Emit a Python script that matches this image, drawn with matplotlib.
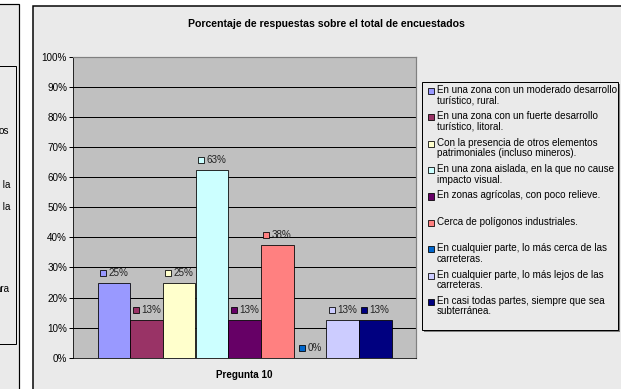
import math
import matplotlib
matplotlib.use("Agg")
import matplotlib.pyplot as plt
from matplotlib.patches import Rectangle
from matplotlib.offsetbox import DrawingArea, TextArea, HPacker, AnnotationBbox

# ---------------- data ----------------
title = "Porcentaje de respuestas sobre el total de encuestados"
category = "Pregunta 10"
series_names = [
    "En una zona con un moderado desarrollo\nturístico, rural.",
    "En una zona con un fuerte desarrollo\nturístico, litoral.",
    "Con la presencia de otros elementos\npatrimoniales (incluso mineros).",
    "En una zona aislada, en la que no cause\nimpacto visual.",
    "En zonas agrícolas, con poco relieve.",
    "Cerca de polígonos industriales.",
    "En cualquier parte, lo más cerca de las\ncarreteras.",
    "En cualquier parte, lo más lejos de las\ncarreteras.",
    "En casi todas partes, siempre que sea\nsubterránea.",
]
values = [25, 12.5, 25, 62.5, 12.5, 37.5, 0, 12.5, 12.5]
colors = ["#9999FF", "#993366", "#FFFFCC", "#CCFFFF", "#660066",
          "#FF8080", "#0066CC", "#CCCCFF", "#000080"]
yticks = [0, 10, 20, 30, 40, 50, 60, 70, 80, 90, 100]
ytick_labels = [f"{t}%" for t in yticks]
left_fragments = ["os", "y la", "y la", "ara"]

# ---------------- figure ----------------
W, H = 621, 389
DPI = 72
plt.rcParams["font.family"] = ["Liberation Sans", "DejaVu Sans"]
FS = 9.9
fig = plt.figure(figsize=(W / DPI, H / DPI), dpi=DPI, facecolor="white")


def fx(x):
    return x / W


def fy(y):
    return 1 - y / H


def frect(x0, y0, x1, y1, **kw):
    r = Rectangle((fx(x0), fy(y1)), fx(x1) - fx(x0), fy(y0) - fy(y1),
                  transform=fig.transFigure, **kw)
    fig.add_artist(r)
    return r


PANEL = "#EAEAEA"
# left (cut-off) chart panel
frect(-10, 4, 19, 400, facecolor=PANEL, edgecolor="black", lw=1.2, zorder=0)
frect(-10, 66, 16, 344, facecolor=PANEL, edgecolor="black", lw=1.0, zorder=1)
for txt, y, xr in zip(left_fragments, [131, 185, 207, 289], [9.0, 10.0, 10.0, 10.0]):
    fig.text(fx(xr), fy(y), txt, ha="right", va="center", fontsize=FS, color="black", zorder=2)

# right chart panel
frect(33, 6, 640, 400, facecolor=PANEL, edgecolor="black", lw=1.5, zorder=0)

fig.text(fx(326), fy(24), title, ha="center", va="center",
         fontsize=10.5, fontweight="bold", zorder=3)

# ---------------- axes ----------------
L, R, T, B = 73, 416, 57, 357.7
ax = fig.add_axes([fx(L), fy(B), fx(R) - fx(L), fy(T) - fy(B)], zorder=5)
ax.set_facecolor("#C0C0C0")

n = len(values)
w = 1 / (n + 1.5)
xs = [-0.5 + 0.75 * w + (i + 0.5) * w for i in range(n)]
ax.set_xlim(-0.5, 0.5)
ax.set_ylim(0, 100)
ax.set_yticks(yticks)
ax.set_yticklabels(ytick_labels, fontsize=FS)
ax.yaxis.grid(True, color="black", lw=1.0)
ax.set_axisbelow(True)
ax.tick_params(axis="y", length=4, width=1, pad=2, color="black")
ax.set_xticks([0])
ax.set_xticklabels([category], fontsize=FS, fontweight="bold")
ax.tick_params(axis="x", length=0, pad=12)
for s in ["top", "right"]:
    ax.spines[s].set_color("#808080")
    ax.spines[s].set_linewidth(1.2)
ax.spines["left"].set_color("black")
ax.spines["bottom"].set_color("black")

for x, v, c in zip(xs, values, colors):
    ax.bar(x, v, width=w, color=c, edgecolor="black", lw=0.8, zorder=3)
    da = DrawingArea(7, 7, 0, 0)
    da.add_artist(Rectangle((0.5, 0.5), 6, 6, facecolor=c, edgecolor="black", lw=0.8))
    lab = f"{math.floor(v + 0.5)}%"
    ta = TextArea(lab, textprops=dict(fontsize=FS, color="#222222"))
    pack = HPacker(children=[da, ta], sep=2, align="center", pad=0)
    ab = AnnotationBbox(pack, (x, v), xybox=(0, 10), boxcoords="offset points",
                        frameon=False, box_alignment=(0.5, 0.5), pad=0, zorder=6)
    ax.add_artist(ab)

# ---------------- legend ----------------
frect(424, 84, 620, 332, facecolor="#808080", edgecolor="none", zorder=3)
frect(422, 82, 618, 330, facecolor=PANEL, edgecolor="black", lw=1.0, zorder=4)
ys = [91 + i * (302 - 91) / (n - 1) for i in range(n)]
for y, name, c in zip(ys, series_names, colors):
    frect(428, y - 3, 434, y + 3, facecolor=c, edgecolor="black", lw=0.8, zorder=5)
    fig.text(fx(437), fy(y - 6), name, ha="left", va="top", fontsize=FS,
             linespacing=1.05, zorder=5)

fig.savefig("out.png", dpi=DPI, facecolor="white")
